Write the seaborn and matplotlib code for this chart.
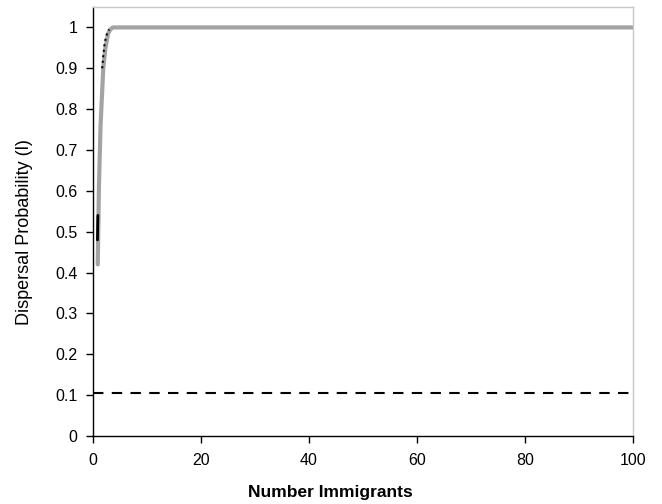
import matplotlib
matplotlib.use("Agg")
import matplotlib.pyplot as plt
import seaborn as sns

# data
gray_x = [0.88, 1.1, 1.4, 1.9, 2.3, 2.8, 3.2, 3.7, 5, 20, 40, 60, 80, 100]
gray_y = [0.42, 0.61, 0.76, 0.90, 0.95, 0.985, 0.995, 1.0, 1.0, 1.0, 1.0, 1.0, 1.0, 1.0]
black_x = [0.83, 0.86, 0.9]
black_y = [0.48, 0.51, 0.54]
black_dot_x = [1.7, 1.9, 2.1, 2.3, 2.5, 2.7, 3.0]
black_dot_y = [0.90, 0.93, 0.955, 0.97, 0.98, 0.99, 0.995]
thresh_x = [0, 100]
thresh_y = [0.105, 0.105]
x_ticks = [0, 20, 40, 60, 80, 100]
y_ticks = [0, 0.1, 0.2, 0.3, 0.4, 0.5, 0.6, 0.7, 0.8, 0.9, 1.0]
y_ticklabels = ["0", "0.1", "0.2", "0.3", "0.4", "0.5", "0.6", "0.7", "0.8", "0.9", "1"]

sns.set_style("white")
plt.rcParams['font.family'] = ['Liberation Sans', 'DejaVu Sans']

fig = plt.figure(figsize=(6.62, 5.04), dpi=100)
ax = fig.add_axes([93 / 662, 68 / 504, 540 / 662, 429 / 504])

sns.lineplot(x=gray_x, y=gray_y, ax=ax, color="#a3a3a3", lw=3, sort=False)
sns.lineplot(x=black_x, y=black_y, ax=ax, color="black", lw=2, sort=False)
sns.lineplot(x=black_dot_x, y=black_dot_y, ax=ax, color="black", lw=1.5, ls=":", sort=False)
sns.lineplot(x=thresh_x, y=thresh_y, ax=ax, color="black", lw=1.5, ls=(0, (5, 4)), sort=False)

ax.set_xlim(0, 100)
ax.set_ylim(0, 1.05)
ax.set_xticks(x_ticks)
ax.set_yticks(y_ticks)
ax.set_yticklabels(y_ticklabels)
ax.tick_params(axis='both', direction='out', length=5, width=1, color='black',
               labelsize=11.5, left=True, bottom=True, labelcolor='black')
ax.tick_params(axis='x', pad=7)
ax.tick_params(axis='y', pad=6)
for s in ['left', 'bottom']:
    ax.spines[s].set_color('black')
    ax.spines[s].set_linewidth(1)
for s in ['top', 'right']:
    ax.spines[s].set_color('#c8c8c8')
    ax.spines[s].set_linewidth(1)

ax.set_xlabel("Number Immigrants", fontsize=12.5, fontweight='bold', color='black',
              va='center', ha='center')
ax.set_ylabel("Dispersal Probability (l)", fontsize=13, color='black',
              va='center', ha='center')
ax.xaxis.set_label_coords((330 - 93) / 540, (436 - 492) / 429)
ax.yaxis.set_label_coords((25 - 93) / 540, (436 - 232) / 429)

fig.savefig("out.png", dpi=100)
